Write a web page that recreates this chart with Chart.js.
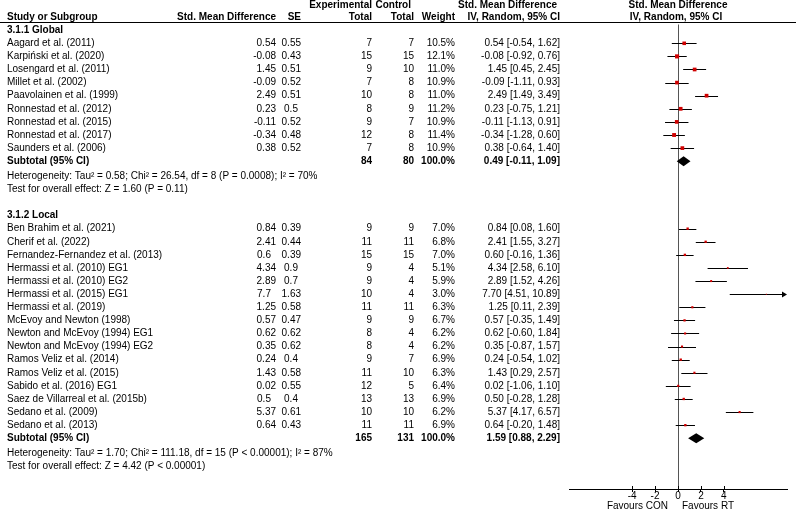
<!DOCTYPE html>
<html><head><meta charset="utf-8">
<script src="https://cdn.jsdelivr.net/npm/chart.js@4/dist/chart.umd.min.js"></script>
<style>html,body{margin:0;padding:0;background:#fff;}#wrap{width:796px;height:513px;}</style>
</head><body><div id="wrap"><canvas id="c" width="796" height="513"></canvas></div>
<script>
// ---------- data ----------
const globalNames = ['Aagard et al. (2011)','Karpiński et al. (2020)','Losengard et al. (2011)','Millet et al. (2002)','Paavolainen et al. (1999)','Ronnestad et al. (2012)','Ronnestad et al. (2015)','Ronnestad et al. (2017)','Saunders et al. (2006)'];
const globalSmd = [0.54,-0.08,1.45,-0.09,2.49,0.23,-0.11,-0.34,0.38];
const globalSe = [0.55,0.43,0.51,0.52,0.51,0.5,0.52,0.48,0.52];
const globalExpN = [7,15,9,7,10,8,9,12,7];
const globalCtrlN = [7,15,10,8,8,9,7,8,8];
const globalWeight = [10.5,12.1,11.0,10.9,11.0,11.2,10.9,11.4,10.9];
const globalLo = [-0.54,-0.92,0.45,-1.11,1.49,-0.75,-1.13,-1.28,-0.64];
const globalHi = [1.62,0.76,2.45,0.93,3.49,1.21,0.91,0.60,1.40];
const globalTotal = {exp:84, ctrl:80, est:0.49, lo:-0.11, hi:1.09};
const globalHet = 'Heterogeneity: Tau² = 0.58; Chi² = 26.54, df = 8 (P = 0.0008); I² = 70%';
const globalTest = 'Test for overall effect: Z = 1.60 (P = 0.11)';

const localNames = ['Ben Brahim et al. (2021)','Cherif et al. (2022)','Fernandez-Fernandez et al. (2013)','Hermassi et al. (2010) EG1','Hermassi et al. (2010) EG2','Hermassi et al. (2015) EG1','Hermassi et al. (2019)','McEvoy and Newton (1998)','Newton and McEvoy (1994) EG1','Newton and McEvoy (1994) EG2','Ramos Veliz et al. (2014)','Ramos Veliz et al. (2015)','Sabido et al. (2016) EG1','Saez de Villarreal et al. (2015b)','Sedano et al. (2009)','Sedano et al. (2013)'];
const localSmd = [0.84,2.41,0.6,4.34,2.89,7.7,1.25,0.57,0.62,0.35,0.24,1.43,0.02,0.5,5.37,0.64];
const localSe = [0.39,0.44,0.39,0.9,0.7,1.63,0.58,0.47,0.62,0.62,0.4,0.58,0.55,0.4,0.61,0.43];
const localExpN = [9,11,15,9,9,10,11,9,8,8,9,11,12,13,10,11];
const localCtrlN = [9,11,15,4,4,4,11,9,4,4,7,10,5,13,10,11];
const localWeight = [7.0,6.8,7.0,5.1,5.9,3.0,6.3,6.7,6.2,6.2,6.9,6.3,6.4,6.9,6.2,6.9];
const localLo = [0.08,1.55,-0.16,2.58,1.52,4.51,0.11,-0.35,-0.60,-0.87,-0.54,0.29,-1.06,-0.28,4.17,-0.20];
const localHi = [1.60,3.27,1.36,6.10,4.26,10.89,2.39,1.49,1.84,1.57,1.02,2.57,1.10,1.28,6.57,1.48];
const localTotal = {exp:165, ctrl:131, est:1.59, lo:0.88, hi:2.29};
const localHet = 'Heterogeneity: Tau² = 1.70; Chi² = 111.18, df = 15 (P < 0.00001); I² = 87%';
const localTest = 'Test for overall effect: Z = 4.42 (P < 0.00001)';

const xTicks = [-4,-2,0,2,4];
const favoursLeft = 'Favours CON';
const favoursRight = 'Favours RT';

// ---------- structure ----------
const groups = [
  {title:'3.1.1 Global', names:globalNames, smd:globalSmd, se:globalSe, expN:globalExpN, ctrlN:globalCtrlN, w:globalWeight, lo:globalLo, hi:globalHi, tot:globalTotal, het:globalHet, test:globalTest},
  {title:'3.1.2 Local', names:localNames, smd:localSmd, se:localSe, expN:localExpN, ctrlN:localCtrlN, w:localWeight, lo:localLo, hi:localHi, tot:localTotal, het:localHet, test:localTest}
];
let r = -1;
groups.forEach(g => {
  g.headRow = r;
  g.rows = g.names.map((_, i) => r + 1 + i);
  g.subRow = r + 1 + g.names.length;
  g.hetRow = g.subRow + 1.15;
  g.testRow = g.hetRow + 1.0;
  r = g.testRow + 2.0;
});

const ROW_PX = 13.1, ROW0_PX = 43.3;
const FONT_FAM = '"Liberation Sans", Arial, Helvetica, sans-serif';
const RED = '#d00000';

const points = [], radii = [];
groups.forEach(g => g.smd.forEach((v, i) => { points.push({x:v, y:g.rows[i]}); radii.push(0.24 * g.w[i]); }));

function fmt2(v){ return v.toFixed(2); }
function ciText(e, lo, hi){ return fmt2(e) + ' [' + fmt2(lo) + ', ' + fmt2(hi) + ']'; }

const forest = {
  id:'forest',
  afterLayout(chart){
    const ys = chart.scales.y;
    ys.min = (ys.top - ROW0_PX) / ROW_PX;
    ys.max = (ys.bottom - ROW0_PX) / ROW_PX;
    ys.configure();
  },
  beforeDatasetsDraw(chart){
    const ctx = chart.ctx, xs = chart.scales.x, ys = chart.scales.y, ca = chart.chartArea;
    const x0 = Math.round(xs.getPixelForValue(0)) + 0.5;
    const hy = Math.round(ys.getPixelForValue(-1.6)) + 0.5;
    ctx.save();
    ctx.strokeStyle = '#555'; ctx.lineWidth = 1;
    ctx.beginPath(); ctx.moveTo(x0, hy + 2); ctx.lineTo(x0, ca.bottom); ctx.stroke();
    ctx.strokeStyle = '#000';
    xTicks.forEach(v => {
      const px = Math.round(xs.getPixelForValue(v)) + 0.5;
      ctx.beginPath(); ctx.moveTo(px, ca.bottom - 3); ctx.lineTo(px, ca.bottom); ctx.stroke();
    });
    ctx.fillStyle = '#000';
    groups.forEach(g => g.rows.forEach((row, i) => {
      const y = Math.round(ys.getPixelForValue(row)) + 0.5;
      const lo = Math.max(g.lo[i], xs.min), hi = Math.min(g.hi[i], xs.max);
      const p1 = xs.getPixelForValue(lo), p2 = xs.getPixelForValue(hi);
      ctx.beginPath(); ctx.moveTo(p1, y); ctx.lineTo(g.hi[i] > xs.max ? p2 - 3 : p2, y); ctx.stroke();
      if (g.hi[i] > xs.max) {
        ctx.beginPath(); ctx.moveTo(p2, y); ctx.lineTo(p2 - 5, y - 3); ctx.lineTo(p2 - 5, y + 3); ctx.closePath(); ctx.fill();
      }
    }));
    ctx.restore();
  },
  afterDatasetsDraw(chart){
    const ctx = chart.ctx, xs = chart.scales.x, ys = chart.scales.y;
    ctx.save(); ctx.fillStyle = '#000';
    groups.forEach(g => {
      const y = ys.getPixelForValue(g.subRow);
      const h = 5;
      ctx.beginPath();
      ctx.moveTo(xs.getPixelForValue(g.tot.lo), y);
      ctx.lineTo(xs.getPixelForValue(g.tot.est), y - h);
      ctx.lineTo(xs.getPixelForValue(g.tot.hi), y);
      ctx.lineTo(xs.getPixelForValue(g.tot.est), y + h);
      ctx.closePath(); ctx.fill();
    });
    ctx.restore();
  },
  afterDraw(chart){
    const ctx = chart.ctx, xs = chart.scales.x, ys = chart.scales.y;
    const W = chart.width;
    const Y = row => ys.getPixelForValue(row);
    ctx.save();
    ctx.fillStyle = '#000'; ctx.textBaseline = 'middle';
    const T = (s, x, y, align, bold) => { ctx.font = (bold ? 'bold ' : '') + '10px ' + FONT_FAM; ctx.textAlign = align; ctx.fillText(s, x, y); };
    const L = 7;
    const h1 = Y(-2.9), h2 = Y(-2.0);
    T('Experimental', 372, h1, 'right', true);
    T('Control', 411, h1, 'right', true);
    T('Std. Mean Difference', 557, h1, 'right', true);
    T('Std. Mean Difference', xs.getPixelForValue(0), h1, 'center', true);
    T('Study or Subgroup', L, h2, 'left', true);
    T('Std. Mean Difference', 276, h2, 'right', true);
    T('SE', 301, h2, 'right', true);
    T('Total', 372, h2, 'right', true);
    T('Total', 414, h2, 'right', true);
    T('Weight', 455, h2, 'right', true);
    T('IV, Random, 95% CI', 560, h2, 'right', true);
    T('IV, Random, 95% CI', xs.getPixelForValue(0) - 2, h2, 'center', true);
    const hy = Math.round(Y(-1.6)) + 0.5;
    ctx.strokeStyle = '#000'; ctx.lineWidth = 1;
    ctx.beginPath(); ctx.moveTo(0, hy); ctx.lineTo(W, hy); ctx.stroke();
    groups.forEach(g => {
      T(g.title, L, Y(g.headRow), 'left', true);
      g.rows.forEach((row, i) => {
        const y = Y(row);
        T(g.names[i], L, y, 'left', false);
        const sm = String(g.smd[i]), se = String(g.se[i]);
        if (/\.\d\d$/.test(sm)) T(sm, 276, y, 'right', false); else T(sm, 264, y, 'center', false);
        if (/\.\d\d$/.test(se)) T(se, 301, y, 'right', false); else T(se, 291, y, 'center', false);
        T(String(g.expN[i]), 372, y, 'right', false);
        T(String(g.ctrlN[i]), 414, y, 'right', false);
        T(g.w[i].toFixed(1) + '%', 455, y, 'right', false);
        T(ciText(g.smd[i], g.lo[i], g.hi[i]), 560, y, 'right', false);
      });
      const ys2 = Y(g.subRow);
      T('Subtotal (95% CI)', L, ys2, 'left', true);
      T(String(g.tot.exp), 372, ys2, 'right', true);
      T(String(g.tot.ctrl), 414, ys2, 'right', true);
      T('100.0%', 455, ys2, 'right', true);
      T(ciText(g.tot.est, g.tot.lo, g.tot.hi), 560, ys2, 'right', true);
      T(g.het, L, Y(g.hetRow), 'left', false);
      T(g.test, L, Y(g.testRow), 'left', false);
    });
    const x0 = xs.getPixelForValue(0);
    T(favoursLeft, x0 - 10, 506, 'right', false);
    T(favoursRight, x0 + 4, 506, 'left', false);
    ctx.restore();
  }
};

new Chart(document.getElementById('c'), {
  type:'scatter',
  data:{ datasets:[{ label:'Studies', data:points, pointStyle:'rect', pointRadius:radii, pointHoverRadius:radii, backgroundColor:RED, borderWidth:0 }] },
  options:{
    responsive:false, animation:false, events:[],
    layout:{ padding:{ left:569, right:9, top:0, bottom:13 } },
    plugins:{ legend:{display:false}, tooltip:{enabled:false} },
    scales:{
      x:{ type:'linear', position:'bottom', min:-9.5, max:9.5,
          afterBuildTicks: s => { s.ticks = xTicks.map(v => ({value:v})); },
          ticks:{ color:'#000', font:{family:FONT_FAM, size:10}, padding:-2, maxRotation:0, autoSkip:false, callback: v => String(v) },
          grid:{ drawOnChartArea:false, drawTicks:true, tickLength:3, color:'#000' },
          border:{ display:true, color:'#000', width:1 } },
      y:{ type:'linear', display:false, reverse:true, min:-3, max:34 }
    }
  },
  plugins:[forest]
});
</script></body></html>
